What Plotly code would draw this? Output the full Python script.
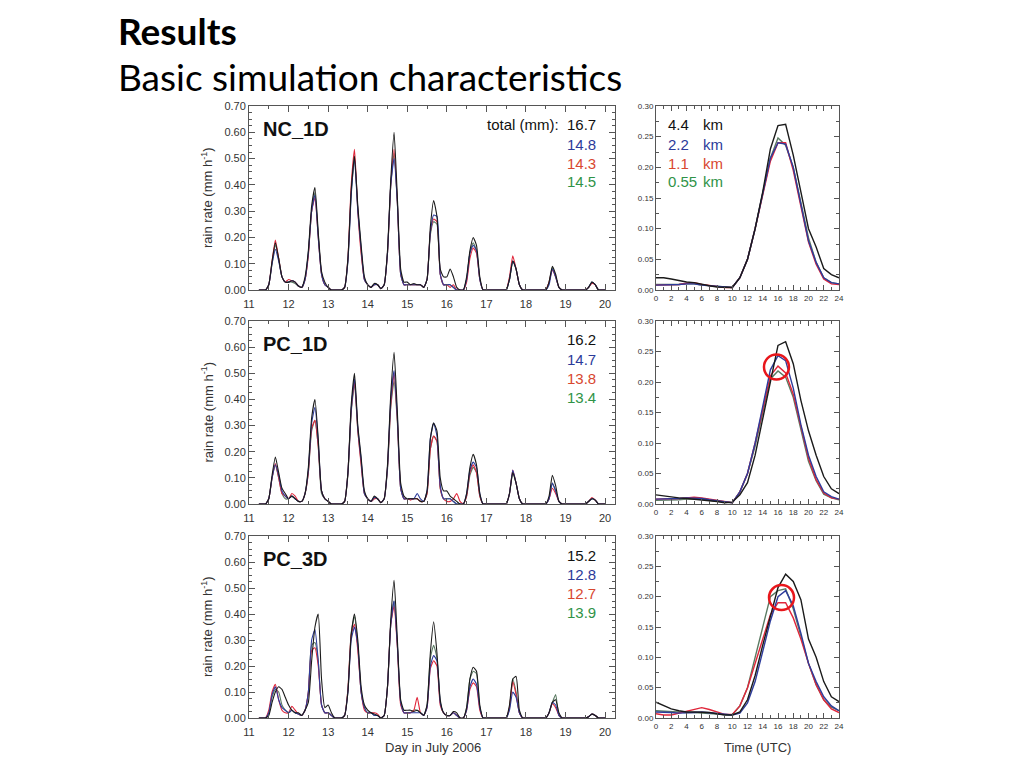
import plotly.graph_objects as go

W, H = 1024, 768

# ---------------- time axes ----------------
left_hours = list(range(6, 217, 2))          # hours since 11 July 2006 00 UTC (2-hourly)
utc_hours = list(range(0, 25))               # diurnal composite hours

# ---------------- NC_1D : domain-mean rain rate (mm/h) ----------------
nc1d_44 = [0, 0, 0, 0.02, 0.11, 0.18, 0.12, 0.05, 0.03,
           0.03, 0.035, 0.03, 0.015, 0.01, 0.05, 0.15, 0.32, 0.39, 0.22, 0.07, 0.03,
           0.01, 0, 0, 0, 0, 0.01, 0.12, 0.38, 0.51, 0.32, 0.17, 0.05,
           0.02, 0.01, 0.025, 0.02, 0.005, 0.02, 0.15, 0.42, 0.60, 0.35, 0.08, 0.03,
           0.03, 0.02, 0.025, 0.02, 0.02, 0.01, 0.04, 0.24, 0.34, 0.28, 0.08, 0.05,
           0.05, 0.08, 0.05, 0.01, 0, 0, 0.05, 0.15, 0.20, 0.17, 0.05, 0,
           0, 0, 0, 0, 0, 0, 0, 0.04, 0.11, 0.08, 0.02, 0,
           0, 0, 0, 0, 0, 0, 0, 0.03, 0.09, 0.06, 0.01, 0,
           0, 0, 0, 0, 0, 0, 0, 0.01, 0.03, 0.02, 0, 0,
           0]
nc1d_22 = [0, 0, 0, 0.02, 0.10, 0.155, 0.11, 0.05, 0.03,
           0.03, 0.035, 0.03, 0.015, 0.01, 0.04, 0.14, 0.30, 0.36, 0.20, 0.06, 0.02,
           0.01, 0, 0, 0, 0, 0.01, 0.11, 0.36, 0.50, 0.30, 0.16, 0.04,
           0.02, 0.01, 0.02, 0.02, 0.005, 0.02, 0.14, 0.40, 0.50, 0.33, 0.06, 0.02,
           0.02, 0.02, 0.02, 0.02, 0.02, 0.01, 0.04, 0.22, 0.285, 0.28, 0.06, 0.02,
           0.02, 0.02, 0.01, 0, 0, 0, 0.04, 0.14, 0.17, 0.15, 0.04, 0,
           0, 0, 0, 0, 0, 0, 0, 0.04, 0.11, 0.08, 0.02, 0,
           0, 0, 0, 0, 0, 0, 0, 0.02, 0.08, 0.05, 0.01, 0,
           0, 0, 0, 0, 0, 0, 0, 0.01, 0.03, 0.02, 0, 0,
           0]
nc1d_11 = [0, 0, 0, 0.02, 0.11, 0.19, 0.12, 0.05, 0.03,
           0.04, 0.035, 0.03, 0.015, 0.01, 0.04, 0.13, 0.30, 0.35, 0.20, 0.06, 0.02,
           0.01, 0, 0, 0, 0, 0.01, 0.12, 0.40, 0.535, 0.30, 0.14, 0.04,
           0.02, 0.01, 0.02, 0.02, 0.005, 0.02, 0.14, 0.40, 0.535, 0.33, 0.06, 0.02,
           0.02, 0.02, 0.02, 0.02, 0.02, 0.01, 0.04, 0.22, 0.27, 0.26, 0.06, 0.02,
           0.02, 0.01, 0.02, 0, 0, 0, 0.03, 0.12, 0.16, 0.14, 0.04, 0,
           0, 0, 0, 0, 0, 0, 0, 0.05, 0.13, 0.08, 0.02, 0,
           0, 0, 0, 0, 0, 0, 0, 0.03, 0.075, 0.05, 0.01, 0,
           0, 0, 0, 0, 0, 0, 0, 0.01, 0.025, 0.02, 0, 0,
           0]
nc1d_055 = [0, 0, 0, 0.02, 0.10, 0.17, 0.12, 0.05, 0.03,
            0.03, 0.03, 0.025, 0.015, 0.01, 0.04, 0.14, 0.30, 0.37, 0.21, 0.06, 0.02,
            0.01, 0, 0, 0, 0, 0.01, 0.11, 0.37, 0.50, 0.31, 0.15, 0.04,
            0.02, 0.01, 0.02, 0.02, 0.005, 0.02, 0.14, 0.40, 0.52, 0.33, 0.06, 0.02,
            0.02, 0.02, 0.02, 0.02, 0.02, 0.01, 0.04, 0.21, 0.26, 0.25, 0.06, 0.02,
            0.02, 0.02, 0.01, 0, 0, 0, 0.04, 0.14, 0.18, 0.15, 0.04, 0,
            0, 0, 0, 0, 0, 0, 0, 0.04, 0.11, 0.08, 0.02, 0,
            0, 0, 0, 0, 0, 0, 0, 0.03, 0.085, 0.05, 0.01, 0,
            0, 0, 0, 0, 0, 0, 0, 0.01, 0.03, 0.02, 0, 0,
            0]

# ---------------- PC_1D ----------------
pc1d_44 = [0, 0, 0, 0.02, 0.11, 0.18, 0.12, 0.06, 0.04,
           0.02, 0.03, 0.02, 0.01, 0.01, 0.04, 0.14, 0.33, 0.40, 0.25, 0.05, 0.02,
           0.01, 0, 0, 0, 0, 0.01, 0.12, 0.38, 0.50, 0.30, 0.18, 0.05,
           0.02, 0.01, 0.03, 0.02, 0.005, 0.02, 0.15, 0.42, 0.58, 0.35, 0.08, 0.03,
           0.02, 0.02, 0.02, 0.02, 0.01, 0.01, 0.05, 0.25, 0.31, 0.28, 0.10, 0.05,
           0.05, 0.03, 0.02, 0.01, 0, 0, 0.04, 0.14, 0.19, 0.15, 0.04, 0,
           0, 0, 0, 0, 0, 0, 0, 0.04, 0.12, 0.08, 0.02, 0,
           0, 0, 0, 0, 0, 0, 0, 0.03, 0.11, 0.07, 0.01, 0,
           0, 0, 0, 0, 0, 0, 0, 0.01, 0.02, 0.015, 0, 0,
           0]
pc1d_22 = [0, 0, 0, 0.02, 0.10, 0.15, 0.11, 0.05, 0.03,
           0.02, 0.03, 0.02, 0.01, 0.01, 0.04, 0.13, 0.31, 0.37, 0.24, 0.05, 0.02,
           0.01, 0, 0, 0, 0, 0.01, 0.12, 0.36, 0.48, 0.29, 0.17, 0.04,
           0.02, 0.01, 0.025, 0.02, 0.005, 0.02, 0.14, 0.40, 0.51, 0.33, 0.06, 0.02,
           0.02, 0.02, 0.02, 0.04, 0.02, 0.01, 0.05, 0.25, 0.31, 0.26, 0.07, 0.02,
           0.02, 0.02, 0.01, 0, 0, 0, 0.04, 0.13, 0.16, 0.14, 0.04, 0,
           0, 0, 0, 0, 0, 0, 0, 0.04, 0.13, 0.08, 0.02, 0,
           0, 0, 0, 0, 0, 0, 0, 0.02, 0.08, 0.05, 0.01, 0,
           0, 0, 0, 0, 0, 0, 0, 0.01, 0.02, 0.015, 0, 0,
           0]
pc1d_11 = [0, 0, 0, 0.02, 0.10, 0.155, 0.10, 0.04, 0.03,
           0.02, 0.04, 0.03, 0.01, 0.01, 0.04, 0.12, 0.29, 0.32, 0.22, 0.05, 0.02,
           0.01, 0, 0, 0, 0, 0.01, 0.12, 0.36, 0.47, 0.28, 0.15, 0.04,
           0.02, 0.01, 0.02, 0.02, 0.005, 0.02, 0.14, 0.38, 0.50, 0.32, 0.06, 0.02,
           0.02, 0.015, 0.02, 0.02, 0.01, 0.01, 0.04, 0.21, 0.26, 0.24, 0.06, 0.02,
           0.01, 0.01, 0.02, 0.04, 0.01, 0, 0.03, 0.12, 0.15, 0.12, 0.03, 0,
           0, 0, 0, 0, 0, 0, 0, 0.04, 0.13, 0.08, 0.02, 0,
           0, 0, 0, 0, 0, 0, 0, 0.02, 0.06, 0.04, 0.01, 0,
           0, 0, 0, 0, 0, 0, 0, 0.01, 0.025, 0.015, 0, 0,
           0]
pc1d_055 = [0, 0, 0, 0.02, 0.10, 0.15, 0.10, 0.04, 0.02,
            0.02, 0.03, 0.02, 0.01, 0.01, 0.04, 0.12, 0.28, 0.32, 0.22, 0.04, 0.02,
            0.01, 0, 0, 0, 0, 0.01, 0.11, 0.35, 0.46, 0.28, 0.16, 0.04,
            0.02, 0.01, 0.02, 0.02, 0.005, 0.02, 0.13, 0.37, 0.47, 0.31, 0.06, 0.02,
            0.02, 0.02, 0.02, 0.02, 0.01, 0.01, 0.04, 0.21, 0.26, 0.24, 0.06, 0.02,
            0.02, 0.02, 0.01, 0, 0, 0, 0.03, 0.11, 0.14, 0.12, 0.03, 0,
            0, 0, 0, 0, 0, 0, 0, 0.04, 0.12, 0.08, 0.02, 0,
            0, 0, 0, 0, 0, 0, 0, 0.02, 0.08, 0.05, 0.01, 0,
            0, 0, 0, 0, 0, 0, 0, 0.01, 0.02, 0.015, 0, 0,
            0]

# ---------------- PC_3D ----------------
pc3d_44 = [0, 0, 0, 0.01, 0.06, 0.10, 0.12, 0.11, 0.08,
           0.05, 0.03, 0.02, 0.02, 0.01, 0.03, 0.06, 0.22, 0.35, 0.40, 0.15, 0.04,
           0.05, 0.02, 0, 0, 0, 0.01, 0.10, 0.32, 0.40, 0.30, 0.12, 0.05,
           0.03, 0.02, 0.015, 0.01, 0, 0.01, 0.12, 0.38, 0.53, 0.30, 0.07, 0.03,
           0.03, 0.03, 0.025, 0.03, 0.02, 0.01, 0.05, 0.25, 0.37, 0.25, 0.07, 0.02,
           0.01, 0.01, 0.025, 0.02, 0, 0, 0.04, 0.15, 0.195, 0.18, 0.05, 0,
           0, 0, 0, 0, 0, 0, 0, 0.05, 0.15, 0.16, 0.03, 0,
           0, 0, 0, 0, 0, 0, 0, 0.02, 0.06, 0.07, 0.02, 0,
           0, 0, 0, 0, 0, 0, 0, 0.005, 0.015, 0.01, 0, 0,
           0]
pc3d_22 = [0, 0, 0, 0.02, 0.09, 0.12, 0.07, 0.04, 0.03,
           0.02, 0.03, 0.02, 0.015, 0.01, 0.03, 0.10, 0.30, 0.34, 0.22, 0.05, 0.02,
           0.02, 0.01, 0, 0, 0, 0.01, 0.10, 0.30, 0.35, 0.28, 0.10, 0.04,
           0.02, 0.02, 0.01, 0.01, 0, 0.01, 0.12, 0.36, 0.45, 0.28, 0.06, 0.02,
           0.02, 0.02, 0.02, 0.02, 0.02, 0.01, 0.04, 0.20, 0.24, 0.22, 0.06, 0.02,
           0.01, 0.01, 0.02, 0.01, 0, 0, 0.03, 0.12, 0.15, 0.13, 0.04, 0,
           0, 0, 0, 0, 0, 0, 0, 0.03, 0.10, 0.08, 0.02, 0,
           0, 0, 0, 0, 0, 0, 0, 0.02, 0.06, 0.05, 0.01, 0,
           0, 0, 0, 0, 0, 0, 0, 0.005, 0.015, 0.01, 0, 0,
           0]
pc3d_11 = [0, 0, 0, 0.03, 0.10, 0.13, 0.07, 0.03, 0.02,
           0.02, 0.045, 0.03, 0.015, 0.01, 0.03, 0.10, 0.26, 0.27, 0.20, 0.05, 0.02,
           0.02, 0.01, 0, 0, 0, 0.01, 0.11, 0.32, 0.36, 0.26, 0.10, 0.03,
           0.02, 0.02, 0.02, 0.015, 0, 0.01, 0.12, 0.36, 0.43, 0.27, 0.05, 0.02,
           0.02, 0.02, 0.03, 0.08, 0.02, 0.01, 0.04, 0.19, 0.22, 0.20, 0.05, 0.02,
           0.01, 0.01, 0.02, 0.01, 0, 0, 0.03, 0.11, 0.135, 0.12, 0.03, 0,
           0, 0, 0, 0, 0, 0, 0, 0.04, 0.14, 0.09, 0.02, 0,
           0, 0, 0, 0, 0, 0, 0, 0.02, 0.055, 0.04, 0.01, 0,
           0, 0, 0, 0, 0, 0, 0, 0.005, 0.015, 0.01, 0, 0,
           0]
pc3d_055 = [0, 0, 0, 0.02, 0.08, 0.11, 0.10, 0.05, 0.03,
            0.02, 0.03, 0.02, 0.015, 0.01, 0.03, 0.10, 0.28, 0.29, 0.22, 0.05, 0.02,
            0.02, 0.01, 0, 0, 0, 0.01, 0.11, 0.33, 0.39, 0.28, 0.10, 0.04,
            0.02, 0.02, 0.01, 0.01, 0, 0.01, 0.12, 0.36, 0.45, 0.28, 0.06, 0.02,
            0.02, 0.02, 0.03, 0.03, 0.02, 0.01, 0.05, 0.23, 0.28, 0.23, 0.06, 0.02,
            0.01, 0.01, 0.02, 0.01, 0, 0, 0.04, 0.15, 0.18, 0.17, 0.04, 0,
            0, 0, 0, 0, 0, 0, 0, 0.04, 0.15, 0.10, 0.02, 0,
            0, 0, 0, 0, 0, 0, 0, 0.02, 0.06, 0.09, 0.01, 0,
            0, 0, 0, 0, 0, 0, 0, 0.005, 0.015, 0.01, 0, 0,
            0]

# ---------------- diurnal composites (mm/h) ----------------
nc1d_diu_44 = [0.02, 0.02, 0.018, 0.015, 0.013, 0.012, 0.009, 0.007, 0.005, 0.004, 0.004, 0.02, 0.05,
               0.10, 0.16, 0.23, 0.268, 0.27, 0.22, 0.16, 0.10, 0.07, 0.035, 0.025, 0.02]
nc1d_diu_22 = [0.008, 0.008, 0.008, 0.009, 0.01, 0.01, 0.008, 0.007, 0.005, 0.004, 0.004, 0.02, 0.05,
               0.10, 0.16, 0.215, 0.24, 0.238, 0.20, 0.14, 0.08, 0.045, 0.02, 0.012, 0.01]
nc1d_diu_11 = [0.008, 0.008, 0.008, 0.009, 0.011, 0.012, 0.009, 0.007, 0.005, 0.004, 0.004, 0.02, 0.05,
               0.10, 0.155, 0.21, 0.24, 0.24, 0.195, 0.135, 0.078, 0.042, 0.018, 0.01, 0.009]
nc1d_diu_055 = [0.009, 0.009, 0.008, 0.009, 0.01, 0.01, 0.008, 0.007, 0.005, 0.004, 0.004, 0.02, 0.05,
                0.10, 0.16, 0.215, 0.248, 0.236, 0.20, 0.145, 0.085, 0.045, 0.02, 0.012, 0.01]

pc1d_diu_44 = [0.015, 0.013, 0.011, 0.01, 0.009, 0.008, 0.007, 0.006, 0.004, 0.002, 0.003, 0.015, 0.035,
               0.08, 0.14, 0.20, 0.26, 0.266, 0.23, 0.17, 0.12, 0.08, 0.045, 0.025, 0.017]
pc1d_diu_22 = [0.008, 0.008, 0.008, 0.009, 0.01, 0.01, 0.009, 0.007, 0.005, 0.003, 0.002, 0.02, 0.05,
               0.10, 0.16, 0.22, 0.243, 0.235, 0.19, 0.13, 0.08, 0.045, 0.02, 0.012, 0.008]
pc1d_diu_11 = [0.008, 0.008, 0.008, 0.009, 0.01, 0.011, 0.01, 0.008, 0.005, 0.003, 0.002, 0.02, 0.05,
               0.10, 0.155, 0.21, 0.226, 0.215, 0.18, 0.125, 0.075, 0.04, 0.018, 0.01, 0.008]
pc1d_diu_055 = [0.006, 0.006, 0.006, 0.007, 0.008, 0.008, 0.008, 0.006, 0.004, 0.003, 0.002, 0.02, 0.05,
                0.095, 0.15, 0.205, 0.218, 0.208, 0.175, 0.12, 0.07, 0.038, 0.016, 0.01, 0.007]

pc3d_diu_44 = [0.026, 0.02, 0.015, 0.012, 0.01, 0.01, 0.01, 0.009, 0.007, 0.005, 0.005, 0.01, 0.03,
               0.07, 0.12, 0.17, 0.215, 0.237, 0.225, 0.195, 0.13, 0.10, 0.06, 0.035, 0.027]
pc3d_diu_22 = [0.01, 0.01, 0.009, 0.008, 0.008, 0.009, 0.01, 0.009, 0.007, 0.006, 0.005, 0.008, 0.025,
               0.06, 0.11, 0.16, 0.20, 0.21, 0.185, 0.14, 0.09, 0.06, 0.035, 0.02, 0.012]
pc3d_diu_11 = [0.007, 0.005, 0.005, 0.008, 0.012, 0.015, 0.017, 0.014, 0.01, 0.006, 0.006, 0.02, 0.05,
               0.09, 0.13, 0.17, 0.19, 0.19, 0.165, 0.13, 0.09, 0.055, 0.03, 0.015, 0.009]
pc3d_diu_055 = [0.012, 0.011, 0.01, 0.01, 0.009, 0.009, 0.008, 0.007, 0.006, 0.005, 0.005, 0.02, 0.05,
                0.10, 0.15, 0.20, 0.21, 0.213, 0.18, 0.135, 0.09, 0.055, 0.03, 0.018, 0.012]

# ---------------- labels ----------------
panel_names = ["NC_1D", "PC_1D", "PC_3D"]
totals = [["16.7", "14.8", "14.3", "14.5"],
          ["16.2", "14.7", "13.8", "13.4"],
          ["15.2", "12.8", "12.7", "13.9"]]
res_labels = ["4.4", "2.2", "1.1", "0.55"]
day_ticks = list(range(11, 21))
utc_ticks = list(range(0, 25, 2))

# ---------------- styling ----------------
line_cols = ["#1a1a1a", "#2d3c9c", "#e0263a", "#5a7a62"]
text_cols = ["#111111", "#2b3b9a", "#d8472f", "#2f9347"]
FONT = "Liberation Sans, Arial, sans-serif"

left_series = [[nc1d_44, nc1d_22, nc1d_11, nc1d_055],
               [pc1d_44, pc1d_22, pc1d_11, pc1d_055],
               [pc3d_44, pc3d_22, pc3d_11, pc3d_055]]
right_series = [[nc1d_diu_44, nc1d_diu_22, nc1d_diu_11, nc1d_diu_055],
                [pc1d_diu_44, pc1d_diu_22, pc1d_diu_11, pc1d_diu_055],
                [pc3d_diu_44, pc3d_diu_22, pc3d_diu_11, pc3d_diu_055]]

def px_x(p):
    return p / W

def px_y(p):
    return 1 - p / H

rows_px = [(106, 290), (321, 504), (536, 718)]
left_px = (249, 615)
right_px = (656, 839)

day_x = [11 + h / 24 for h in left_hours]

fig = go.Figure()
layout = {}
annotations = []
shapes = []

for i in range(3):
    la = 2 * i + 1
    ra = 2 * i + 2
    top, bot = rows_px[i]
    ydom = [px_y(bot), px_y(top)]
    for k in [3, 2, 1, 0]:
        fig.add_trace(go.Scatter(x=day_x, y=left_series[i][k], mode="lines",
                                 line=dict(color=line_cols[k], width=1.1, shape="spline", smoothing=0.5),
                                 xaxis=f"x{la}", yaxis=f"y{la}", showlegend=False))
        fig.add_trace(go.Scatter(x=utc_hours, y=right_series[i][k], mode="lines",
                                 line=dict(color=line_cols[k], width=1.4),
                                 xaxis=f"x{ra}", yaxis=f"y{ra}", showlegend=False))
    common = dict(showline=True, linecolor="#555", linewidth=1, mirror="allticks",
                  ticks="inside", tickcolor="#555", showgrid=False, zeroline=False,
                  automargin=False)
    layout[f"xaxis{la}"] = dict(common, domain=[px_x(left_px[0]), px_x(left_px[1])],
                                anchor=f"y{la}", range=[11, 20.25], tickvals=day_ticks,
                                ticklen=6, ticklabelstandoff=4,
                                tickfont=dict(family=FONT, size=11, color="#333"),
                                minor=dict(dtick=0.5, tick0=11, ticklen=3, ticks="inside", tickcolor="#555"))
    layout[f"yaxis{la}"] = dict(common, domain=ydom, anchor=f"x{la}", range=[0, 0.70],
                                dtick=0.1, tickformat=".2f", ticklen=6,
                                tickfont=dict(family=FONT, size=11, color="#333"),
                                minor=dict(dtick=0.025, ticklen=3, ticks="inside", tickcolor="#555"))
    layout[f"xaxis{ra}"] = dict(common, domain=[px_x(right_px[0]), px_x(right_px[1])],
                                anchor=f"y{ra}", range=[0, 24], tickvals=utc_ticks,
                                ticklen=5, tickfont=dict(family=FONT, size=8, color="#333"),
                                minor=dict(dtick=1, ticklen=3, ticks="inside", tickcolor="#555"))
    layout[f"yaxis{ra}"] = dict(common, domain=ydom, anchor=f"x{ra}", range=[0, 0.30],
                                dtick=0.05, tickformat=".2f", ticklen=5,
                                tickfont=dict(family=FONT, size=8, color="#333"),
                                minor=dict(dtick=0.025, ticklen=3, ticks="inside", tickcolor="#555"))

    # panel name
    annotations.append(dict(text=f"<b>{panel_names[i]}</b>", xref="paper", yref="paper",
                            x=px_x(261), y=px_y(top + 23), xanchor="left", yanchor="middle",
                            showarrow=False, font=dict(family=FONT, size=20, color="#111")))
    # totals
    for k in range(4):
        txt = totals[i][k]
        if i == 0 and k == 0:
            txt = "total (mm):  " + txt
        annotations.append(dict(text=txt, xref="paper", yref="paper",
                                x=px_x(598), y=px_y(top + 19 + 19 * k), xanchor="right", yanchor="middle",
                                showarrow=False, font=dict(family=FONT, size=15, color=text_cols[k])))
    # y-axis title
    annotations.append(dict(text="rain rate (mm h<sup>-1</sup>)", xref="paper", yref="paper",
                            x=px_x(207), y=px_y((top + bot) / 2), textangle=-90,
                            xanchor="center", yanchor="middle", showarrow=False,
                            font=dict(family=FONT, size=13, color="#333")))

# resolution legend (top-right panel)
for k in range(4):
    annotations.append(dict(text=res_labels[k], xref="paper", yref="paper",
                            x=px_x(666), y=px_y(125 + 19 * k), xanchor="left", yanchor="middle",
                            showarrow=False, font=dict(family=FONT, size=15, color=text_cols[k])))
    annotations.append(dict(text="km", xref="paper", yref="paper",
                            x=px_x(701), y=px_y(125 + 19 * k), xanchor="left", yanchor="middle",
                            showarrow=False, font=dict(family=FONT, size=15, color=text_cols[k])))

# x-axis titles
annotations.append(dict(text="Day in July 2006", xref="paper", yref="paper",
                        x=px_x(433), y=px_y(747), xanchor="center", yanchor="middle",
                        showarrow=False, font=dict(family=FONT, size=13, color="#333")))
annotations.append(dict(text="Time (UTC)", xref="paper", yref="paper",
                        x=px_x(757), y=px_y(747), xanchor="center", yanchor="middle",
                        showarrow=False, font=dict(family=FONT, size=13, color="#333")))

# slide headings
annotations.append(dict(text="<b>Results</b>", xref="paper", yref="paper",
                        x=px_x(116), y=px_y(30), xanchor="left", yanchor="middle",
                        showarrow=False, font=dict(family="Lato, sans-serif", size=37, color="#000")))
annotations.append(dict(text="Basic simulation characteristics", xref="paper", yref="paper",
                        x=px_x(116), y=px_y(77), xanchor="left", yanchor="middle",
                        showarrow=False, font=dict(family="Lato, sans-serif", size=37, color="#000")))

# red highlight circles (data coordinates of right panels)
circles = [("x4", "y4", 15.8, 0.2245), ("x6", "y6", 16.46, 0.1985)]
for xr, yr, cx, cy in circles:
    dx = 12.5 / 7.625
    dy = 12.5 / 608
    shapes.append(dict(type="circle", xref=xr, yref=yr, x0=cx - dx, x1=cx + dx,
                       y0=cy - dy, y1=cy + dy, line=dict(color="#e8161b", width=2.5)))

fig.update_layout(width=W, height=H, margin=dict(l=0, r=0, t=0, b=0, pad=0),
                  paper_bgcolor="white", plot_bgcolor="white",
                  annotations=annotations, shapes=shapes, **layout)

fig.write_html("out.html", config={"displayModeBar": False},
               post_script="document.body.style.margin='0';document.body.style.overflow='hidden';")
